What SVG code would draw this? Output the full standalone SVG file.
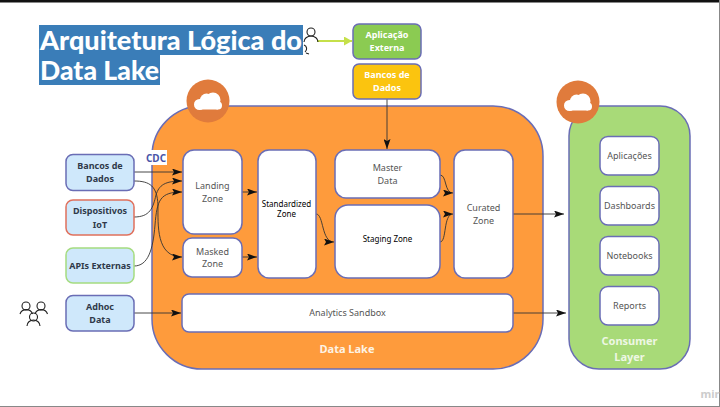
<svg xmlns="http://www.w3.org/2000/svg" width="720" height="407" viewBox="0 0 720 407">
<style>
.n{stroke:#6a6db5;stroke-width:1.5}
.w{fill:#fff}
.s{fill:#cfe8fb}
text{font-family:"Noto Sans","Open Sans",sans-serif;text-anchor:middle}
.g{font-size:9px;fill:#555}
.b{font-size:9px;font-weight:700;fill:#2f3a4a}
.l{font-size:9px;font-weight:700;fill:#fff}
.k{font-size:8px;fill:#000}
.c{fill:none;stroke:#333;stroke-width:.9;marker-end:url(#a)}
.u{fill:none;stroke:#222;stroke-width:1.1}
</style>
<defs>
<marker id="a" markerUnits="userSpaceOnUse" markerWidth="11" markerHeight="7" refX="10" refY="3.500" orient="auto"><path d="M0 0L10 3.500L0 7L2 3.500Z" fill="#111"/></marker>
<marker id="ag" markerUnits="userSpaceOnUse" markerWidth="9" markerHeight="9" refX="8" refY="4.500" orient="auto"><path d="M0 0L8 4.500L0 9Z" fill="#c5e04a"/></marker>
<g id="cloud" fill="#fff"><circle cx="-8.500" cy="3.500" r="5.500"/><circle cx="-1.500" cy="-1" r="6.500"/><circle cx="5" cy="-1" r="7.500"/><circle cx="10" cy="4.500" r="4"/><rect x="-8.500" y="2" width="18.500" height="6.500"/></g>
</defs>
<rect width="720" height="407" fill="#fff"/>
<rect width="720" height="2.500" fill="#111"/>
<rect x="719" width="1" height="407" fill="#888"/>
<rect y="406" width="720" height="1" fill="#888"/>

<g id="title">
<rect x="39" y="25" width="264" height="30" fill="#3a7db8"/>
<rect x="39" y="55" width="121" height="30" fill="#3a7db8"/>
<text x="40" y="50" textLength="262" lengthAdjust="spacingAndGlyphs" style="font-family:Lato,sans-serif;font-size:27px;font-weight:900;text-anchor:start;fill:#fff">Arquitetura Lógica do</text>
<text x="40" y="80" textLength="119" lengthAdjust="spacingAndGlyphs" style="font-family:Lato,sans-serif;font-size:27px;font-weight:900;text-anchor:start;fill:#fff">Data Lake</text>
</g>

<g id="data-lake">
<rect class="n" x="152" y="106" width="391" height="263" rx="50" fill="#fe9b3c"/>
<circle cx="208" cy="101" r="21.500" fill="#e07b3c"/>
<use href="#cloud" x="208" y="101"/>
<text x="347" y="353" style="font-size:11px;font-weight:700;fill:#fdf3e4">Data Lake</text>
</g>
<g id="consumer-layer">
<rect class="n" x="569" y="106" width="121" height="263" rx="30" fill="#a8da78"/>
<circle cx="578" cy="102" r="21.500" fill="#e07b3c"/>
<use href="#cloud" x="578" y="102"/>
<text x="629.500" y="345" style="font-size:11px;font-weight:700;fill:#eef7e4">Consumer</text>
<text x="629.500" y="361" style="font-size:11px;font-weight:700;fill:#eef7e4">Layer</text>
</g>

<g id="connectors">
<path class="c" d="M134 172H182"/>
<path class="c" d="M134 181C150 181 157 186 158 205C158 225 156 257 182 257"/>
<path class="c" d="M134 217C150 217 153 208 156 195C159 185 165 181 182 181"/>
<path class="c" d="M134 266C148 266 153 250 155 225C157 200 160 192 182 192"/>
<path class="c" d="M134 313H181"/>
<path class="c" d="M242 192H257"/>
<path class="c" d="M242 257H257"/>
<path class="c" d="M316 214C324 214 321 242 334 242"/>
<path class="c" d="M387 99V149"/>
<path class="c" d="M440 175C447 175 444 193 453 193"/>
<path class="c" d="M440 242C447 242 443 214 453 214"/>
<path class="c" d="M513 214H564"/>
<path class="c" d="M513 313H566"/>
<path d="M317 41H352" fill="none" stroke="#c5e04a" stroke-width="2" marker-end="url(#ag)"/>
</g>

<g id="node-landing"><rect class="n w" x="183" y="150" width="59" height="84" rx="11"/><text class="g" x="212.500" y="189">Landing</text><text class="g" x="212.500" y="202">Zone</text></g>
<g id="node-masked"><rect class="n w" x="183" y="238" width="59" height="39" rx="9"/><text class="g" x="212.500" y="255">Masked</text><text class="g" x="212.500" y="267">Zone</text></g>
<g id="node-standardized"><rect class="n w" x="258" y="150" width="58" height="128" rx="11"/><text class="k" x="286.500" y="207">Standardized</text><text class="k" x="286.500" y="217">Zone</text></g>
<g id="node-master"><rect class="n w" x="335" y="150" width="105" height="48" rx="11"/><text class="g" x="387.500" y="171">Master</text><text class="g" x="387.500" y="184">Data</text></g>
<g id="node-staging"><rect class="n w" x="335" y="205" width="105" height="73" rx="13"/><text class="k" x="387.500" y="242">Staging Zone</text></g>
<g id="node-curated"><rect class="n w" x="454" y="150" width="59" height="128" rx="11"/><text class="g" x="483.500" y="211">Curated</text><text class="g" x="483.500" y="224">Zone</text></g>
<g id="node-sandbox"><rect class="n w" x="182" y="294" width="331" height="38" rx="7"/><text class="g" x="347.500" y="316">Analytics Sandbox</text></g>

<g id="node-cdc"><rect x="145" y="150" width="22" height="15" fill="#fff"/><text x="156" y="162" style="font-size:10px;font-weight:700;fill:#4a55a8">CDC</text></g>
<g id="node-bancos"><rect class="n s" x="66" y="154.500" width="68" height="36" rx="7"/><text class="b" x="100" y="169">Bancos de</text><text class="b" x="100" y="182">Dados</text></g>
<g id="node-iot"><rect class="s" x="66" y="200" width="68" height="35" rx="7" stroke="#e0705c" stroke-width="1.500"/><text class="b" x="100" y="214">Dispositivos</text><text class="b" x="100" y="228">IoT</text></g>
<g id="node-apis"><rect class="s" x="66" y="248" width="68" height="35" rx="7" stroke="#a5dc80" stroke-width="1.500"/><text class="b" x="100" y="269">APIs Externas</text></g>
<g id="node-adhoc"><rect class="n s" x="66" y="295.500" width="68" height="35.500" rx="7" stroke="#5f72c8"/><text class="b" x="100" y="310">Adhoc</text><text class="b" x="100" y="323">Data</text></g>

<g id="node-aplicacao"><rect class="n" x="353" y="24" width="68" height="35" rx="6" fill="#8bcb52"/><text class="l" x="387" y="38">Aplicação</text><text class="l" x="387" y="51">Externa</text></g>
<g id="node-bancos-ext"><rect class="n" x="353" y="64" width="68" height="35" rx="6" fill="#fbc40f"/><text class="l" x="387" y="78">Bancos de</text><text class="l" x="387" y="91">Dados</text></g>

<g id="node-aplicacoes"><rect class="n w" x="600" y="136.500" width="59" height="38.500" rx="8"/><text class="g" x="629.500" y="159">Aplicações</text></g>
<g id="node-dashboards"><rect class="n w" x="600" y="186.500" width="59" height="38.500" rx="8"/><text class="g" x="629.500" y="209">Dashboards</text></g>
<g id="node-notebooks"><rect class="n w" x="600" y="236.500" width="59" height="38.500" rx="8"/><text class="g" x="629.500" y="259">Notebooks</text></g>
<g id="node-reports"><rect class="n w" x="600" y="286.500" width="59" height="38.500" rx="8"/><text class="g" x="629.500" y="309">Reports</text></g>

<g id="users-top"><circle cx="311" cy="32" r="4" class="u"/><path class="u" d="M304 42a7 6 0 0 1 14 0"/><path class="u" d="M304 45a4 4 0 0 1 1 7M306 53l3 1"/></g>
<g id="users-adhoc"><circle cx="26" cy="306" r="4" class="u"/><path class="u" d="M20 314a6.500 6 0 0 1 12.500 0"/><circle cx="41" cy="306" r="4" class="u"/><path class="u" d="M35 314a6.500 6 0 0 1 12.500 0"/><circle cx="33.500" cy="317" r="4" class="u"/><path class="u" d="M27 326a6.500 6 0 0 1 13 0"/></g>

<text x="710" y="398" style="font-size:11px;font-weight:700;fill:#ccc">mir</text>
</svg>
